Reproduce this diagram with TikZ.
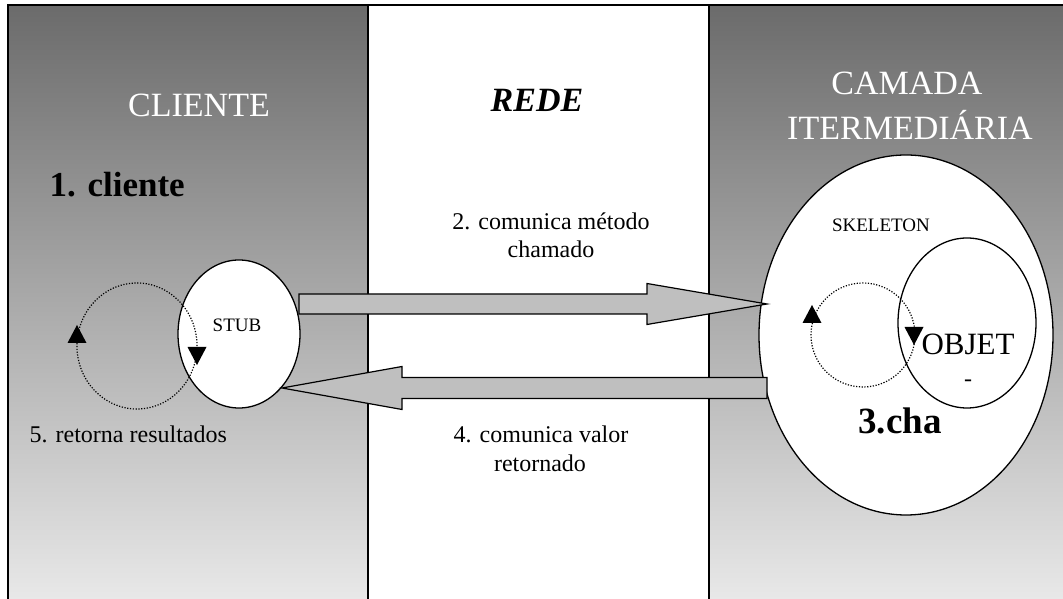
\documentclass[tikz,border=0pt]{standalone}
\usepackage{fontspec}
\setmainfont{Liberation Serif}
\usetikzlibrary{calc}
\definecolor{paneltop}{gray}{0.42}
\definecolor{panelbot}{gray}{0.91}
\definecolor{arrowfill}{gray}{0.75}
\newcommand{\fatarrow}[4]{% from, to, shaft half width, head half width
  \draw[blockarrow] let \p1=(#1), \p2=(#2), \n1={sign(\x2-\x1)*120} in
    (\x1,\y1+#3) -- (\x2-\n1,\y1+#3) -- (\x2-\n1,\y1+#4) -- (\x2,\y1)
    -- (\x2-\n1,\y1-#4) -- (\x2-\n1,\y1-#3) -- (\x1,\y1-#3) -- cycle;}
% head of a loop: tip point, then +1 (up) or -1 (down)
\newcommand{\loophead}[2]{%
  \fill let \p1=(#1) in (\x1,\y1) -- (\x1-9.5,\y1-#2*18) -- (\x1+9.5,\y1-#2*18) -- cycle;}
\begin{document}
\begin{tikzpicture}[x=1pt,y=1pt,line width=1.3pt,
    panel/.style={top color=paneltop,bottom color=panelbot},
    title/.style={text=white,font=\fontsize{34}{44}\selectfont,align=center},
    label/.style={font=\fontsize{24}{28}\selectfont,align=center},
    small/.style={font=\fontsize{19}{22}\selectfont},
    blockarrow/.style={draw,fill=arrowfill,line width=1.2pt,line join=miter},
    loop/.style={line width=1.2pt,dash pattern=on 1.2pt off 1.6pt}]
  \useasboundingbox (0,0) rectangle (1063,599);
  % three columns
  \shade[panel] (8,0) rectangle (368,594);
  \fill[white] (368,0) rectangle (709,594);
  \shade[panel] (709,0) rectangle (1066,594);
  \draw (8,-2) -- (8,594) -- (1066,594);
  \draw (368,-2) -- (368,594);
  \draw (709,-2) -- (709,594);
  \node[title,anchor=base] (cliente) at (199,482) {CLIENTE};
  \node[anchor=base,font=\fontsize{34}{40}\selectfont\bfseries\itshape] (rede) at (537,487) {REDE};
  \node[title,anchor=base] (camada) at (907,504) {CAMADA};
  \node[title,anchor=base] (interm) at (910,459) {ITERMEDIÁRIA};
  \node[anchor=base west,inner sep=0pt,font=\fontsize{35}{40}\selectfont\bfseries] (passo1) at (49,402) {1. cliente};
  % stub and skeleton
  \draw[fill=white] (239,265) ellipse[x radius=61,y radius=74];
  \coordinate (stub) at (239,265);
  \draw[fill=white] (906,264) ellipse[x radius=147,y radius=180];
  \coordinate (skel) at (906,264);
  \draw (967,276) ellipse[x radius=69,y radius=85];
  \coordinate (objet) at (967,276);
  \node[small,anchor=base] (stubtxt) at (237,267) {STUB};
  \node[small,anchor=base] (skeltxt) at (881,367) {SKELETON};
  \node[anchor=base,font=\fontsize{31}{34}\selectfont] (objtxt) at (968,244) {OBJET};
  \node[anchor=base,font=\fontsize{24}{28}\selectfont] (objdash) at (968,212) {-};
  \node[anchor=base,font=\fontsize{37}{40}\selectfont\bfseries] (passo3) at (900,165) {3.cha};
  % local loops
  \draw[loop] (137,253) ellipse[x radius=60,y radius=63];
  \draw[loop] (863,264) circle[radius=52];
  \coordinate (loopA) at (77,274);
  \coordinate (loopB) at (197,234);
  \coordinate (loopC) at (812,294);
  \coordinate (loopD) at (914,254);
  \loophead{loopA}{1}
  \loophead{loopB}{-1}
  \loophead{loopC}{1}
  \loophead{loopD}{-1}
  % calls over the network
  \coordinate (callA) at (299,295);
  \coordinate (callB) at (767,295);
  \coordinate (backA) at (767,211);
  \coordinate (backB) at (282,211);
  \fatarrow{callA}{callB}{10}{20.5}
  \fatarrow{backA}{backB}{10.5}{21.5}
  \node[label,anchor=base] (passo2) at (551,369) {2. comunica método};
  \node[label,anchor=base] at (551,341) {chamado};
  \node[label,anchor=base] (passo4) at (541,156) {4. comunica valor};
  \node[label,anchor=base] at (540,127) {retornado};
  \node[label,anchor=base west,inner sep=0pt] (passo5) at (29,156) {5. retorna resultados};
\end{tikzpicture}
\end{document}
